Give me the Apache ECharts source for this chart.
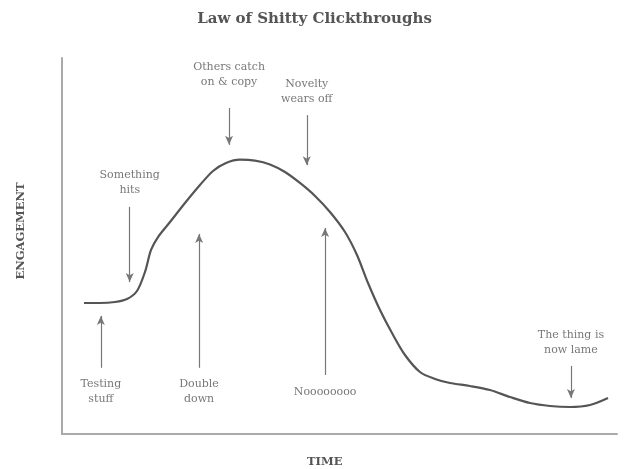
<!DOCTYPE html>
<html>
<head>
<meta charset="utf-8">
<script src="https://cdn.jsdelivr.net/npm/echarts@6/dist/echarts.min.js"></script>
<style>html,body{margin:0;padding:0;background:#fff}#c{width:629px;height:469px}</style>
</head>
<body>
<div id="c"></div>
<script>
// Curve: time (0-100) vs engagement (0-100)
var timeValues = [3.96, 6.85, 9.55, 11.71, 13.51, 14.95, 16.04, 17.30, 19.46, 22.16, 24.86, 27.21, 29.55, 32.07, 34.77, 37.48, 40.18, 42.88, 45.59, 48.29, 50.99, 53.15, 55.14, 57.30, 59.46, 61.80, 64.50, 67.21, 69.91, 73.51, 77.12, 80.72, 84.32, 87.93, 91.53, 95.14, 98.38];
var engagementValues = [34.84, 34.84, 35.11, 35.90, 38.03, 43.09, 48.94, 52.39, 56.38, 61.44, 66.22, 69.95, 72.07, 72.95, 72.70, 71.70, 69.68, 66.76, 63.30, 59.04, 53.72, 47.61, 40.16, 32.98, 26.86, 21.01, 16.49, 14.63, 13.56, 12.77, 11.70, 9.84, 8.24, 7.45, 7.18, 7.71, 9.57];

// Annotations: label text, time value, arrow start/end engagement, label engagement
var annotationLabels = ['Testing\nstuff', 'Something\nhits', 'Double\ndown', 'Others catch\non & copy', 'Novelty\nwears off', 'Noooooooo', 'The thing is\nnow lame'];
var annotationTime = [7.0, 12.2, 24.7, 30.1, 44.1, 47.4, 91.7];
var arrowFrom = [17.6, 60.4, 17.6, 86.7, 84.8, 15.7, 18.1];
var arrowTo = [31.4, 40.4, 53.2, 76.9, 71.5, 54.8, 9.6];
var labelY = [11.2, 66.8, 11.2, 95.6, 91.0, 11.2, 24.2];

var FONT = 'DejaVu Serif';
var curve = timeValues.map(function (t, i) { return [t, engagementValues[i]]; });
var arrows = annotationTime.map(function (t, i) {
  return [{ coord: [t, arrowFrom[i]] }, { coord: [t, arrowTo[i]] }];
});
var labels = annotationTime.map(function (t, i) {
  return { value: [t, labelY[i]], name: annotationLabels[i] };
});

var chart = echarts.init(document.getElementById('c'), null, { renderer: 'canvas' });
chart.setOption({
  animation: false,
  title: {
    text: 'Law of Shitty Clickthroughs',
    left: 'center',
    top: 7,
    textStyle: { fontFamily: FONT, fontWeight: 'bold', fontSize: 15, color: '#555' }
  },
  graphic: [
    {
      type: 'text', left: 326 - 19, top: 456,
      style: { text: 'TIME', fontFamily: FONT, fontWeight: 'bold', fontSize: 11.5, fill: '#555' }
    },
    {
      type: 'text', x: 21, y: 231, rotation: Math.PI / 2,
      style: { text: 'ENGAGEMENT', fontFamily: FONT, fontWeight: 'bold', fontSize: 11.5, fill: '#555', align: 'center', verticalAlign: 'middle' }
    }
  ],
  grid: { left: 62, right: 12, top: 58, bottom: 35 },
  xAxis: {
    type: 'value', min: 0, max: 100,
    axisLine: { show: true, lineStyle: { color: '#aaa', width: 2 } },
    axisTick: { show: false }, axisLabel: { show: false }, splitLine: { show: false }
  },
  yAxis: {
    type: 'value', min: 0, max: 100,
    axisLine: { show: true, lineStyle: { color: '#aaa', width: 2 } },
    axisTick: { show: false }, axisLabel: { show: false }, splitLine: { show: false }
  },
  series: [
    {
      type: 'line', data: curve, smooth: 0.3, showSymbol: false,
      lineStyle: { color: '#555', width: 2.2 },
      silent: true
    },
    {
      type: 'line', data: [], silent: true,
      markLine: {
        silent: true, animation: false,
        symbol: ['none', 'arrow'], symbolSize: [6, 9],
        label: { show: false },
        lineStyle: { color: '#777', width: 1.2, type: 'solid' },
        emphasis: { disabled: true },
        data: arrows
      }
    },
    {
      type: 'scatter', data: labels, symbolSize: 0, silent: true,
      label: {
        show: true, position: 'inside', formatter: function (p) { return p.name; },
        fontFamily: FONT, fontSize: 11, color: '#555', lineHeight: 15, align: 'center', verticalAlign: 'middle'
      }
    }
  ]
});
</script>
</body>
</html>
